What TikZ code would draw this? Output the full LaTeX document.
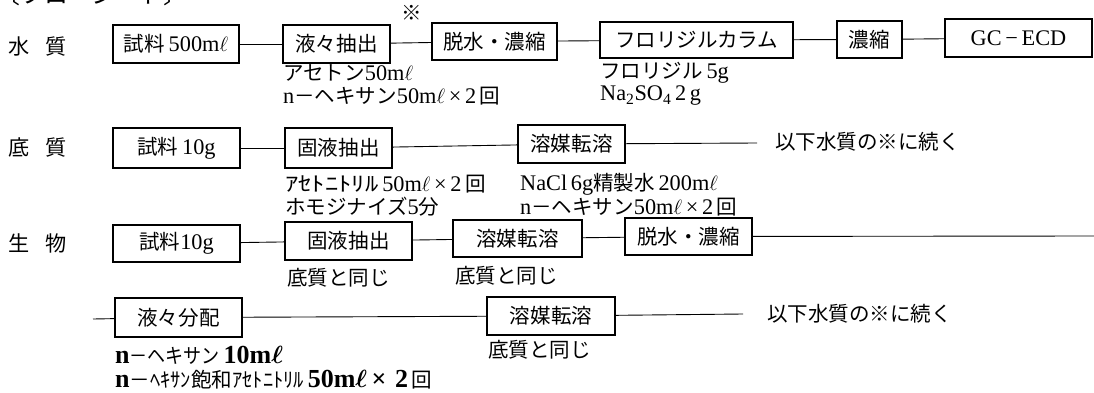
\documentclass[tikz,border=0pt]{standalone}
\usepackage{fontspec}
\setmainfont{Liberation Serif}
\newfontfamily\jpfont[Scale=0.92]{Noto Sans CJK JP}
\newcommand{\J}[1]{{\jpfont #1}}
\newcommand{\HW}[1]{\scalebox{1.3}[1]{\jpfont #1}}
\newcommand{\mlit}{m$\ell$}
\newcommand{\fsz}{\fontsize{22.3}{26}\selectfont}
\newcommand{\BL}[1]{{\fontsize{26}{30}\selectfont\bfseries\boldmath #1}}
\begin{document}
\begin{tikzpicture}[x=1pt,y=-1pt,
  box/.style={draw, line width=1.1pt, inner sep=0pt, font=\fsz},
  txt/.style={anchor=west, inner sep=0pt, font=\fsz},
  conn/.style={line width=0.9pt}]
\useasboundingbox (0,0) rectangle (1094,393);

% heading (cut off at the top edge, as in the original)
\node[anchor=base west, inner sep=0pt, font=\fontsize{26}{30}\selectfont] (head) at (-4,4) {\J{〔フローシート〕}};

% row labels
\node[txt, font=\fontsize{23}{26}\selectfont] (l1) at (8,47) {\J{水}\hspace{16pt}\J{質}};
\node[txt, font=\fontsize{23}{26}\selectfont] (l2) at (8,147) {\J{底}\hspace{16pt}\J{質}};
\node[txt, font=\fontsize{23}{26}\selectfont] (l3) at (8,243) {\J{生}\hspace{16pt}\J{物}};

% row 1
\node[box, minimum width=126pt, minimum height=38pt] (r1a) at (176,44) {\J{試料}\,500\mlit};
\node[box, minimum width=107pt, minimum height=38pt] (r1b) at (336.5,44) {\J{液々抽出}};
\node[box, minimum width=125pt, minimum height=37pt] (r1c) at (494.5,41.5) {\J{脱水・濃縮}};
\node[box, minimum width=193pt, minimum height=36pt] (r1d) at (696.5,40) {\J{フロリジルカラム}};
\node[box, minimum width=65pt, minimum height=37pt] (r1e) at (869.5,39.5) {\J{濃縮}};
\node[box, minimum width=147pt, minimum height=38pt] (r1f) at (1018.5,38) {GC\,−\,ECD};
\node[inner sep=0pt, font=\fsz] (mark) at (412,13) {\J{※}};
\draw[conn] (r1a) -- (r1b);
\draw[conn] (r1b) -- (r1c);
\draw[conn] (r1c) -- (r1d);
\draw[conn] (r1d) -- (r1e);
\draw[conn] (r1e) -- (r1f);
\node[txt] (a1) at (283,73) {\J{アセトン}50\mlit};
\node[txt] (a2) at (283,96) {n\J{－ヘキサン}50\mlit\,×\,2\,\J{回}};
\node[txt] (a3) at (600,73) {\J{フロリジル}\,5g};
\node[txt] (a4) at (600,96) {Na\textsubscript{2}SO\textsubscript{4}\,2\,g};

% row 2
\node[box, minimum width=127pt, minimum height=40pt] (r2a) at (176.5,148) {\J{試料}\,10g};
\node[box, minimum width=107pt, minimum height=40pt] (r2b) at (338.5,148) {\J{固液抽出}};
\node[box, minimum width=107pt, minimum height=38pt] (r2c) at (571.5,144) {\J{溶媒転溶}};
\coordinate (r2end) at (757,143);
\draw[conn] (r2a) -- (r2b);
\draw[conn] (r2b) -- (r2c);
\draw[conn] (r2c) -- (r2end);
\node[txt] (c2) at (775,142) {\J{以下水質の※に続く}};
\node[txt] (b1) at (285,184.5) {\HW{ｱｾﾄﾆﾄﾘﾙ}\,50\mlit\,×\,2\,\J{回}};
\node[txt] (b2) at (285,207) {\J{ホモジナイズ}5\J{分}};
\node[txt] (b3) at (520,184.5) {NaCl\,6g\J{精製水}\,200\mlit};
\node[txt] (b4) at (520,207.5) {n\J{－ヘキサン}50\mlit\,×\,2\,\J{回}};

% row 3
\node[box, minimum width=127pt, minimum height=37pt] (r3a) at (176.5,243.5) {\J{試料}10g};
\node[box, minimum width=127pt, minimum height=38pt] (r3b) at (348.5,241) {\J{固液抽出}};
\node[box, minimum width=129pt, minimum height=37pt] (r3c) at (517.5,238.5) {\J{溶媒転溶}};
\node[box, minimum width=127pt, minimum height=37pt] (r3d) at (688.5,236.5) {\J{脱水・濃縮}};
\coordinate (r3end) at (1094,236);
\draw[conn] (r3a) -- (r3b);
\draw[conn] (r3b) -- (r3c);
\draw[conn] (r3c) -- (r3d);
\draw[conn] (r3d) -- (r3end);
\node[txt] (d1) at (287,278) {\J{底質と同じ}};
\node[txt] (d2) at (455,276) {\J{底質と同じ}};

% row 4
\coordinate (r4start) at (93,319);
\node[box, minimum width=127pt, minimum height=39pt] (r4a) at (178.5,317.5) {\J{液々分配}};
\node[box, minimum width=128pt, minimum height=38pt] (r4b) at (551,316) {\J{溶媒転溶}};
\coordinate (r4end) at (743,314);
\draw[conn] (r4start) -- (r4a);
\draw[conn] (r4a) -- (r4b);
\draw[conn] (r4b) -- (r4end);
\node[txt] (c4) at (767,314) {\J{以下水質の※に続く}};
\node[txt] (e1) at (115,355) {\BL{n}\scalebox{0.88}[1]{\J{－ヘキサン}}\,\BL{10m$\ell$}};
\node[txt] (e2) at (115,380) {\BL{n}\J{－ﾍｷｻﾝ飽和ｱｾﾄﾆﾄﾘﾙ}\,\BL{50m$\ell$\,×\,\,2}\,\J{回}};
\node[txt] (e3) at (488,350) {\J{底質と同じ}};
\end{tikzpicture}
\end{document}
